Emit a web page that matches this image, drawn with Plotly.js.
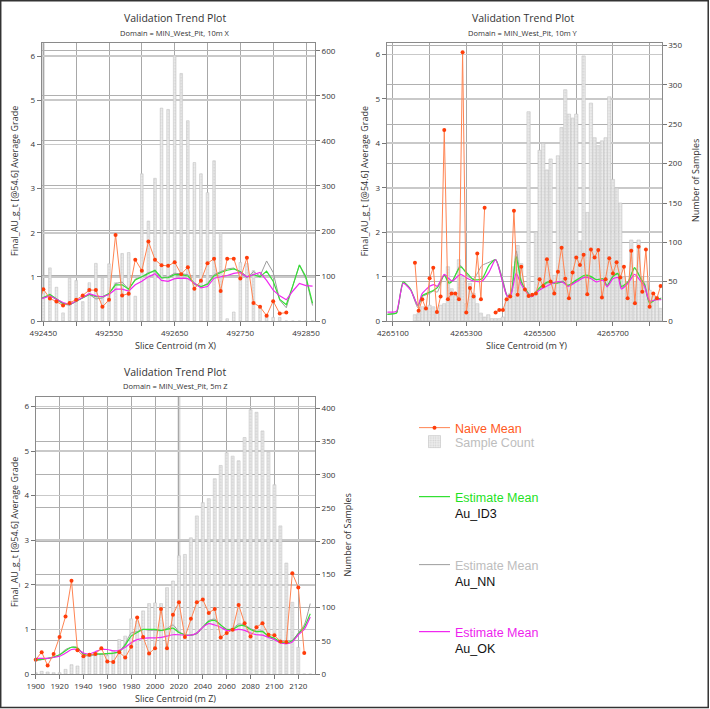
<!DOCTYPE html>
<html>
<head>
<meta charset="utf-8">
<script src="https://cdn.plot.ly/plotly-3.0.1.min.js"></script>
<style>
  html, body { margin: 0; padding: 0; background: #fff; }
  #chart { width: 710px; height: 709px; }
</style>
</head>
<body>
<div id="chart"></div>
<script>
// ---- 10m X slices ----
const sliceX = [492440,492450,492460,492470,492480,492490,492500,492510,492520,492530,492540,492550,492560,492570,492580,492590,492600,492610,492620,492630,492640,492650,492660,492670,492680,492690,492700,492710,492720,492730,492740,492750,492760,492770,492780,492790,492800,492810,492820,492830,492840,492850,492860];
const naiveX = [0.26,0.72,0.51,0.44,0.35,0.41,0.48,0.58,0.70,0.70,0.32,0.48,1.95,0.58,0.62,1.39,1.14,1.80,1.39,1.26,1.25,1.33,1.06,1.22,0.73,0.91,1.31,1.41,0.68,1.41,1.41,0.96,1.43,0.41,0.32,0.12,0.45,0.17,0.19,null,null,null,null];
const countX = [92,70,118,75,18,95,90,43,85,128,95,127,85,150,152,55,327,222,317,473,470,590,550,445,352,327,285,356,197,5,20,130,128,112,30,15,8,8,0,0,0,0,0];
const id3X = [0.48,0.53,0.60,0.50,0.40,0.37,0.45,0.53,0.60,0.55,0.55,0.62,0.82,0.82,0.72,0.93,1.00,1.07,1.15,0.98,0.98,1.05,1.05,1.02,0.85,0.78,0.83,1.02,1.10,1.15,1.18,1.12,1.00,1.05,1.00,1.13,0.90,0.49,0.37,0.80,1.27,1.00,0.40];
const nnX = [0.47,0.53,0.58,0.48,0.38,0.36,0.45,0.53,0.60,0.50,0.52,0.62,0.85,0.88,0.72,0.95,1.00,1.10,1.12,0.97,1.00,1.08,1.07,1.05,0.83,0.77,0.85,1.05,1.12,1.18,1.20,1.10,0.98,1.12,1.02,1.36,1.10,0.47,0.30,0.80,1.27,0.95,0.35];
const okX = [0.50,0.52,0.57,0.50,0.42,0.37,0.45,0.53,0.62,0.57,0.55,0.60,0.72,0.72,0.68,0.82,0.90,1.00,1.07,0.92,0.90,0.96,0.97,0.96,0.85,0.75,0.78,0.97,1.00,1.03,1.08,1.10,1.00,1.05,1.10,0.92,0.70,0.57,0.48,0.68,0.85,0.80,0.79];

// ---- 10m Y slices ----
const sliceY = [4265160,4265170,4265180,4265190,4265200,4265210,4265220,4265230,4265240,4265250,4265260,4265270,4265280,4265290,4265300,4265310,4265320,4265330,4265340,4265350,4265360,4265370,4265380,4265390,4265400,4265410,4265420,4265430,4265440,4265450,4265460,4265470,4265480,4265490,4265500,4265510,4265520,4265530,4265540,4265550,4265560,4265570,4265580,4265590,4265600,4265610,4265620,4265630,4265640,4265650,4265660,4265670,4265680,4265690,4265700,4265710,4265720,4265730,4265740,4265750,4265760,4265770,4265780,4265790,4265800,4265810,4265820,4265830];
const naiveY = [1.31,0.23,0.49,0.28,0.96,1.20,0.20,0.55,4.30,0.49,0.62,0.62,0.49,6.05,0.19,0.74,0.55,1.52,0.49,2.55,null,null,0.19,0.25,0.25,0.49,0.55,2.48,0.59,1.22,0.71,0.56,0.59,0.62,0.94,0.79,1.39,0.89,0.62,1.11,1.65,0.95,0.51,1.09,1.43,1.26,1.49,0.60,1.61,1.43,1.60,0.53,0.94,1.41,1.07,1.32,0.98,1.22,0.51,1.58,0.40,1.67,0.66,1.61,0.32,0.62,0.51,0.79];
const countY = [8,10,18,18,20,18,12,20,22,69,41,36,78,55,22,48,35,22,10,5,8,3,3,3,5,27,35,69,96,73,39,266,34,113,217,226,192,206,58,210,246,294,263,258,263,102,337,138,277,233,223,229,233,285,180,169,150,56,50,103,50,103,56,50,39,31,31,16];
const estY = [4265085,4265100,4265110,4265128,4265148,4265168,4265180,4265200,4265212,4265221,4265240,4265253,4265262,4265284,4265305,4265320,4265343,4265362,4265380,4265399,4265412,4265422,4265436,4265450,4265464,4265478,4265500,4265523,4265545,4265564,4265577,4265600,4265623,4265641,4265655,4265673,4265684,4265700,4265714,4265723,4265741,4265759,4265777,4265786,4265800,4265818,4265832];
const id3Y = [0.15,0.16,0.18,0.88,0.72,0.35,0.57,0.65,0.70,0.75,1.03,0.85,0.90,1.22,1.05,0.93,0.95,1.25,1.38,0.90,0.55,0.62,1.45,0.88,0.68,0.55,0.75,0.88,0.85,0.88,0.80,0.92,1.03,1.00,0.93,0.95,0.80,1.00,1.07,0.78,0.88,1.20,0.93,0.82,0.40,0.50,0.50];
const nnY = [0.15,0.17,0.18,0.85,0.70,0.30,0.55,0.62,0.68,0.65,1.05,0.88,0.90,1.25,1.00,0.95,1.25,1.32,1.38,0.95,0.58,0.60,1.58,0.90,0.70,0.55,0.72,0.86,0.85,0.90,0.80,0.90,1.00,0.98,0.93,0.95,0.78,1.02,1.05,0.75,0.86,1.18,0.95,0.85,0.42,0.48,0.52];
const okY = [0.20,0.20,0.22,0.85,0.70,0.35,0.62,0.78,0.82,0.78,1.05,0.95,0.90,1.05,0.95,0.90,0.90,1.10,1.38,0.88,0.55,0.60,1.07,0.82,0.65,0.55,0.70,0.80,0.88,0.87,0.78,0.88,0.98,0.95,0.88,0.92,0.77,0.95,0.98,0.72,0.85,1.05,0.88,0.78,0.45,0.48,0.48];

// ---- 5m Z slices ----
const sliceZ = [1900,1905,1910,1915,1920,1925,1930,1935,1940,1945,1950,1955,1960,1965,1970,1975,1980,1985,1990,1995,2000,2005,2010,2015,2020,2025,2030,2035,2040,2045,2050,2055,2060,2065,2070,2075,2080,2085,2090,2095,2100,2105,2110,2115,2120,2125,2130];
const naiveZ = [0.32,0.49,0.19,0.45,0.83,1.29,2.09,0.53,0.40,0.43,0.45,0.58,0.28,0.27,0.49,0.37,0.61,1.27,0.83,0.46,0.58,1.46,0.58,1.33,1.61,0.83,1.24,1.61,1.67,1.37,1.46,0.82,0.92,0.99,1.55,1.14,0.84,1.05,1.14,0.88,0.87,0.73,0.72,2.26,1.94,0.47,null];
const countZ = [2,4,3,2,2,7,14,12,26,28,30,30,28,35,52,57,83,80,95,106,107,106,130,140,178,180,205,238,258,264,294,314,333,328,321,356,398,394,366,334,285,223,167,108,40,0,0];
const id3Z = [0.32,0.33,0.35,0.38,0.43,0.52,0.60,0.58,0.45,0.42,0.45,0.45,0.46,0.47,0.50,0.65,0.85,0.93,1.00,1.00,1.00,0.98,1.00,1.03,0.93,0.88,0.87,0.92,1.05,1.18,1.20,1.10,1.00,1.00,1.08,1.08,1.00,0.95,0.95,0.85,0.80,0.72,0.70,0.75,0.90,1.05,1.35];
const nnZ = [0.30,0.32,0.35,0.38,0.43,0.55,0.60,0.60,0.43,0.40,0.43,0.44,0.45,0.46,0.50,0.68,0.92,0.95,1.00,0.98,0.98,0.97,1.02,1.10,0.95,0.88,0.87,0.90,1.05,1.20,1.23,1.10,1.00,1.02,1.12,1.10,1.02,0.96,0.97,0.85,0.78,0.70,0.68,0.75,0.92,1.10,1.58];
const okZ = [0.35,0.35,0.35,0.37,0.40,0.47,0.55,0.55,0.47,0.45,0.50,0.55,0.55,0.52,0.53,0.60,0.70,0.77,0.80,0.81,0.81,0.82,0.85,0.88,0.88,0.87,0.87,0.92,1.05,1.13,1.10,1.05,0.98,0.98,1.00,0.98,0.92,0.88,0.87,0.82,0.77,0.70,0.68,0.72,0.88,1.00,1.28];

const W = 710, H = 709;
const px = (v) => v / W;
const py = (v) => 1 - v / H;

const FONT = "Open Sans, sans-serif";
const tickfont = { family: FONT, size: 8, color: "#333" };

const C_NAIVE_LINE = "#ff8452", C_NAIVE_MARK = "#ff3d0a";
const C_ID3 = "#33e033", C_NN = "#9c9c9c", C_OK = "#f028f0";

function panel(k, slices, counts, barW, naive, estX, id3, nn, ok, shape, legend) {
  const xa = k === 1 ? "x" : "x" + k;
  const cy = 2 * k - 1 === 1 ? "y" : "y" + (2 * k - 1);
  const gy = "y" + 2 * k;
  const line = (color, width) => ({ color, width, shape, smoothing: 0.6 });
  return [
    {
      type: "bar", x: slices, y: counts, xaxis: xa, yaxis: cy, width: barW,
      name: '<span style="color:#bdbdbd">Sample Count</span>',
      legend: "legend2", showlegend: legend, hoverinfo: "skip",
      marker: {
        color: "#ececec",
        line: { color: "#c4c4c4", width: 0.6 },
        pattern: { shape: ".", fgcolor: "#b5b5b5", size: 3, solidity: 0.3, fillmode: "overlay" },
      },
    },
    {
      type: "scatter", mode: "lines", x: estX, y: nn, xaxis: xa, yaxis: gy,
      line: line(C_NN, 1), legend: "legend4", showlegend: legend,
      name: '<span style="color:#bdbdbd">Estimate Mean</span><br>Au_NN',
    },
    {
      type: "scatter", mode: "lines", x: estX, y: id3, xaxis: xa, yaxis: gy,
      line: line(C_ID3, 1.2), legend: "legend3", showlegend: legend,
      name: '<span style="color:#1fe21f">Estimate Mean</span><br>Au_ID3',
    },
    {
      type: "scatter", mode: "lines", x: estX, y: ok, xaxis: xa, yaxis: gy,
      line: line(C_OK, 1.2), legend: "legend5", showlegend: legend,
      name: '<span style="color:#ee1eee">Estimate Mean</span><br>Au_OK',
    },
    {
      type: "scatter", mode: "lines+markers", x: slices, y: naive, xaxis: xa, yaxis: gy,
      line: { color: C_NAIVE_LINE, width: 1 }, marker: { color: C_NAIVE_MARK, size: 4 },
      cliponaxis: false, connectgaps: false,
      legend: "legend", showlegend: legend,
      name: '<span style="color:#ff5a1e">Naive Mean</span>',
    },
  ];
}

const data = [
  ...panel(1, sliceX, countX, 4, naiveX, sliceX, id3X, nnX, okX, "linear", true),
  ...panel(2, sliceY, countY, 9, naiveY, estY, id3Y, nnY, okY, "spline", false),
  ...panel(3, sliceZ, countZ, 2.5, naiveZ, sliceZ, id3Z, nnZ, okZ, "spline", false),
];

function xAxis(domain, anchor, range, dtick, tick0, minor) {
  const ax = {
    domain, anchor, range, dtick, tick0, tickformat: "d",
    showgrid: true, gridcolor: "#a8a8a8", gridwidth: 1,
    ticks: "outside", ticklen: 4, tickcolor: "#777", tickfont,
    showline: true, mirror: true, linecolor: "#8a8a8a", linewidth: 1,
    zeroline: false, fixedrange: true,
  };
  if (minor) ax.minor = { dtick: minor, showgrid: true, gridcolor: "#a8a8a8", ticks: "outside", ticklen: 4, tickcolor: "#777" };
  return ax;
}
function countAxis(domain, anchor, range, dtick) {
  return {
    domain, anchor, range, dtick, tick0: 0, side: "right",
    showgrid: true, gridcolor: "#b0b0b0", gridwidth: 1,
    ticks: "outside", ticklen: 4, tickcolor: "#777", tickfont,
    showline: true, linecolor: "#8a8a8a", zeroline: false, fixedrange: true,
  };
}
function gradeAxis(overlaying, anchor, range) {
  return {
    overlaying, anchor, range, dtick: 1, tick0: 0, side: "left",
    showgrid: true, gridcolor: "#c9c9c9", gridwidth: 1.6,
    ticks: "outside", ticklen: 4, tickcolor: "#777", tickfont,
    showline: true, linecolor: "#8a8a8a", zeroline: false, fixedrange: true,
  };
}

const dTop = [py(321), py(43.3)];
const dBot = [py(674), py(396.7)];

function text(t, x, y, size, angle) {
  return {
    text: t, x: px(x), y: py(y), xref: "paper", yref: "paper",
    xanchor: "center", yanchor: "middle", showarrow: false,
    textangle: angle || 0, font: { family: FONT, size, color: "#333" },
  };
}

// one legend box per entry, so each can sit where the reference puts it
function legendAt(centerY) {
  return {
    x: px(414), xanchor: "left", y: py(centerY - 15), yanchor: "top",
    font: { family: "Liberation Sans, Arial, sans-serif", size: 12.5, color: "#111" },
    valign: "top", itemwidth: 31, bgcolor: "rgba(0,0,0,0)",
  };
}

const gradeTitle = "Final_AU_g_t [@54.6] Average Grade";

const layout = {
  width: W, height: H,
  margin: { l: 0, r: 0, t: 0, b: 0 },
  paper_bgcolor: "#fff", plot_bgcolor: "#fff",
  bargap: 0,
  xaxis: xAxis([px(41.7), px(315)], "y", [492447.5, 492863.7], 100, 492450, 50),
  yaxis: countAxis(dTop, "x", [0, 617], 100),
  yaxis2: gradeAxis("y", "x", [0, 6.29]),
  xaxis2: xAxis([px(386.7), px(661.7)], "y3", [4265083, 4265833], 200, 4265100, 100),
  yaxis3: countAxis(dTop, "x2", [0, 353], 50),
  yaxis4: gradeAxis("y3", "x2", [0, 6.25]),
  xaxis3: xAxis([px(35.7), px(315)], "y5", [1900, 2134], 20, 1900, null),
  yaxis5: countAxis(dBot, "x3", [0, 417.5], 50),
  yaxis6: gradeAxis("y5", "x3", [0, 6.22]),
  showlegend: true,
  legend: legendAt(428),
  legend2: legendAt(442),
  legend3: legendAt(497),
  legend4: legendAt(565),
  legend5: legendAt(632),
  annotations: [
    text("Validation Trend Plot", 175, 18.5, 10.5),
    text("Domain = MIN_West_Pit, 10m X", 175, 32.5, 7.5),
    text("Validation Trend Plot", 523, 18.5, 10.5),
    text("Domain = MIN_West_Pit, 10m Y", 523, 32.5, 7.5),
    text("Validation Trend Plot", 175, 372.3, 10.5),
    text("Domain = MIN_West_Pit, 5m Z", 175, 386, 7.5),
    text("Slice Centroid (m X)", 175, 345.7, 9),
    text("Slice Centroid (m Y)", 526, 345.7, 9),
    text("Slice Centroid (m Z)", 175, 698.3, 9),
    text(gradeTitle, 14, 181, 9, -90),
    text(gradeTitle, 364.3, 181, 9, -90),
    text(gradeTitle, 14, 532, 9, -90),
    text("Number of Samples", 695, 181, 9, -90),
    text("Number of Samples", 346.5, 535, 9, -90),
  ],
  shapes: [
    // pale full-height stripes seen on two of the gridlines
    { type: "line", xref: "x", yref: "y domain", x0: 492450, x1: 492450, y0: 0, y1: 1, layer: "below", line: { color: "#d9d9d9", width: 3 } },
    { type: "line", xref: "x3", yref: "y5 domain", x0: 2020, x1: 2020, y0: 0, y1: 1, layer: "below", line: { color: "#d9d9d9", width: 3 } },
    // outer frame of the picture
    { type: "rect", xref: "paper", yref: "paper", x0: 0.001, x1: 0.9975, y0: 0.002, y1: 0.999, line: { color: "#333", width: 1.5 } },
  ],
};

Plotly.newPlot("chart", data, layout, { displayModeBar: false, staticPlot: true });
</script>
</body>
</html>
